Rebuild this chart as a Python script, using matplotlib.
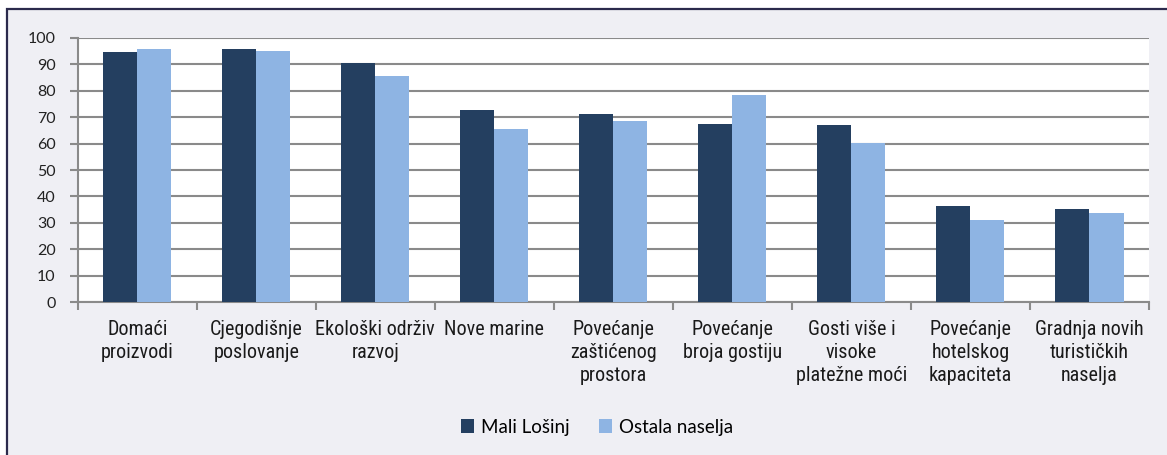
import numpy as np
import matplotlib
matplotlib.use("Agg")
from matplotlib import pyplot as plt
from matplotlib.patches import Rectangle

# data
categories = [
    "Domaći\nproizvodi",
    "Cjegodišnje\nposlovanje",
    "Ekološki održiv\nrazvoj",
    "Nove marine",
    "Povećanje\nzaštićenog\nprostora",
    "Povećanje\nbroja gostiju",
    "Gosti više i\nvisoke\nplatežne moći",
    "Povećanje\nhotelskog\nkapaciteta",
    "Gradnja novih\nturističkih\nnaselja",
]
mali_losinj = [94.7, 95.8, 90.5, 72.8, 71.1, 67.6, 67.0, 36.3, 35.4]
ostala_naselja = [95.8, 95.1, 85.7, 65.6, 68.5, 78.5, 60.1, 31.0, 33.9]
series_names = ["Mali Lošinj", "Ostala naselja"]
yticks = list(range(0, 101, 10))

dark = "#243F60"
light = "#8EB4E3"
grid = "#8a8a8a"
W, H = 1167, 455

fig = plt.figure(figsize=(W / 100, H / 100), dpi=100, facecolor="white")

# outer frame (light grey panel, border on top/left)
fig.patches.append(Rectangle((7 / W, -0.05), 1.1, 1.05 - 9 / H, transform=fig.transFigure,
                             facecolor="#EFEFF4", edgecolor="#2b2a4c", linewidth=1.6, zorder=-10))

ax = fig.add_axes([77.7 / W, 1 - 302 / H, (1149 - 77.7) / W, (302 - 38) / H])
ax.set_zorder(2)
ax.set_facecolor("white")

x = np.arange(len(categories))
w = 0.286
ax.bar(x - w / 2, mali_losinj, w, color=dark, label=series_names[0], zorder=3)
ax.bar(x + w / 2, ostala_naselja, w, color=light, label=series_names[1], zorder=3)

ax.set_xlim(-0.5, len(categories) - 0.5)
ax.set_ylim(0, 100)
ax.set_yticks(yticks)
ax.yaxis.grid(True, color=grid, linewidth=1.5, zorder=0)
ax.set_axisbelow(True)

for s in ["top", "right"]:
    ax.spines[s].set_visible(False)
for s in ["left", "bottom"]:
    ax.spines[s].set_color(grid)
    ax.spines[s].set_linewidth(1.5)

ax.tick_params(axis="y", length=6, width=1.5, color=grid, pad=10)
for lab in ax.get_yticklabels():
    lab.set_fontfamily("Lato")
    lab.set_fontsize(11.5)
    lab.set_color("#222222")

# boundary ticks on x axis, category labels as minor ticks
ax.set_xticks(np.arange(-0.5, len(categories), 1.0))
ax.set_xticklabels([])
ax.tick_params(axis="x", which="major", length=6, width=1.5, color=grid)
ax.set_xticks(x, minor=True)
ax.set_xticklabels(categories, minor=True, fontsize=14.5, linespacing=1.27,
                   fontfamily=["Roboto Condensed", "DejaVu Sans"], fontstretch="condensed", va="top")
ax.tick_params(axis="x", which="minor", length=0, pad=13, colors="#1a1a1a")

leg = fig.legend(loc="center", bbox_to_anchor=(597 / W, 1 - 427 / H), ncol=2, frameon=False,
                 prop={"family": "Lato", "size": 13.5}, handlelength=0.7, handleheight=0.7,
                 handletextpad=0.35, columnspacing=1.6)

fig.savefig("out.png", dpi=100, facecolor="white")
